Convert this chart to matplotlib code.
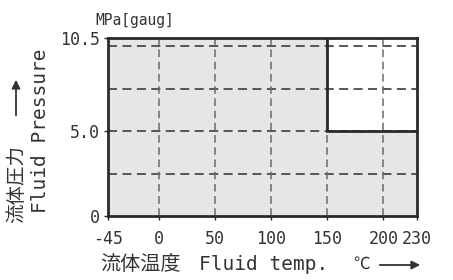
import matplotlib
matplotlib.use("Agg")
import matplotlib.pyplot as plt

# chart values
temp_ticks = [-45, 0, 50, 100, 150, 200, 230]
temp_grid = [0, 50, 100, 150, 200]
pressure_ticks = [0, 5.0, 10.5]
pressure_labels = ["0", "5.0", "10.5"]
pressure_grid = [2.5, 5.0, 7.5, 10.0]
# usable range outline (temp, max pressure)
range_temp = [-45, 150, 150, 230]
range_pressure = [10.5, 10.5, 5.0, 5.0]

W, H = 453, 280
MONO = "DejaVu Sans Mono"
CJK = ["Noto Sans CJK JP", "DejaVu Sans"]
INK = "#2a2a2a"

fig = plt.figure(figsize=(W / 100, H / 100), dpi=100)
ax = fig.add_axes([108 / W, 1 - 216 / H, (417 - 108) / W, (216 - 38) / H])
ax.set_xlim(temp_ticks[0], temp_ticks[-1])
ax.set_ylim(pressure_ticks[0], pressure_ticks[-1])

ax.fill_between(range_temp, 0, range_pressure, color="#e6e6e6", lw=0, zorder=0)

dash = dict(color="#4a4a4a", lw=1.3, ls=(0, (5, 3)), zorder=1)
for y in pressure_grid:
    ax.axhline(y, **dash)
for x in temp_grid:
    ax.axvline(x, **dict(dash, color="#6a6a6a", lw=1.1))

ax.plot(range_temp[1:], range_pressure[1:], color=INK, lw=2, zorder=3,
        solid_joinstyle="miter")

for s in ax.spines.values():
    s.set_linewidth(2)
    s.set_color(INK)
    s.set_zorder(4)

ax.set_xticks(temp_ticks)
ax.set_xticklabels([str(t) for t in temp_ticks])
ax.set_yticks(pressure_ticks)
ax.set_yticklabels(pressure_labels)
ax.tick_params(direction="out", length=3, width=1, color=INK, pad=3)
ax.tick_params(axis="x", pad=7)
for lab in ax.get_xticklabels() + ax.get_yticklabels():
    lab.set_fontfamily(MONO)
    lab.set_fontsize(12)
    lab.set_color("#333333")

def fx(px):
    return px / W

def fy(py):
    return 1 - py / H

fig.text(fx(135), fy(20), "MPa[gaug]", family=MONO, fontsize=10.5,
         color="#333333", ha="center", va="center")

# y axis label
fig.text(fx(17), fy(184), "流体圧力", family=CJK, fontsize=14, rotation=90,
         color="#333333", ha="center", va="center")
fig.text(fx(41), fy(131), "Fluid Pressure", family=MONO, fontsize=14,
         rotation=90, color="#333333", ha="center", va="center")
fig.patches.append(matplotlib.patches.FancyArrowPatch(
    (fx(16), fy(118)), (fx(16), fy(77)), transform=fig.transFigure,
    arrowstyle="-|>,head_length=5,head_width=2.5", color="#333333", lw=1.3))

# x axis label
fig.text(fx(140), fy(264), "流体温度", family=CJK, fontsize=14.5,
         color="#333333", ha="center", va="center")
fig.text(fx(264), fy(264), "Fluid temp.", family=MONO, fontsize=14,
         color="#333333", ha="center", va="center")
fig.text(fx(362), fy(264), "℃", family=CJK, fontsize=12,
         color="#333333", ha="center", va="center")
fig.patches.append(matplotlib.patches.FancyArrowPatch(
    (fx(377), fy(265)), (fx(423), fy(265)), transform=fig.transFigure,
    arrowstyle="-|>,head_length=5,head_width=2.5", color="#333333", lw=1.3))

fig.savefig("out.png", dpi=100)
